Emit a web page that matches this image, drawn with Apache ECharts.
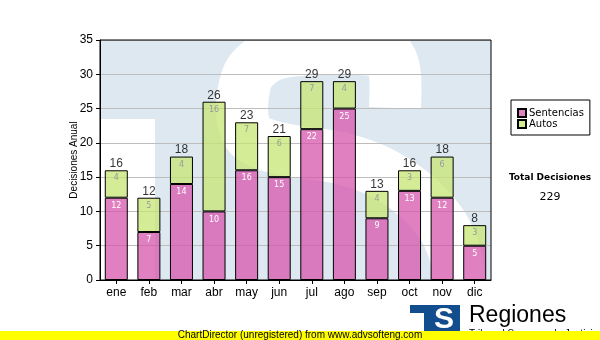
<!DOCTYPE html>
<html>
<head>
<meta charset="utf-8">
<script src="https://cdn.jsdelivr.net/npm/echarts@6/dist/echarts.min.js"></script>
<style>
html,body{margin:0;padding:0;background:#fff;}
#chart{width:600px;height:340px;}
</style>
</head>
<body>
<div id="chart"></div>
<script>
var months = ['ene','feb','mar','abr','may','jun','jul','ago','sep','oct','nov','dic'];
var sentencias = [12,7,14,10,16,15,22,25,9,13,12,5];
var autos = [4,5,4,16,7,6,7,4,4,3,6,3];
var yTicks = {min:0, max:35, interval:5};
var totalLabel = 'Total Decisiones';
var totals = sentencias.map(function(v,i){return v + autos[i];});
var grandTotal = totals.reduce(function(a,b){return a+b;},0);

var chart = echarts.init(document.getElementById('chart'), null, {renderer:'canvas'});
var AR = 'Liberation Sans, Arial, sans-serif';
var TA = 'DejaVu Sans, Verdana, sans-serif';

var sPoints = [[395,108],[395,75],[390,58],[375,50],[300,50],[270,56],[250,72],[243,95],[243,120],[250,136],[270,146],[300,152],[340,158],[380,172],[415,195],[440,222],[452,245],[458,270],[458,330]];

var option = {
  animation:false,
  backgroundColor:'#ffffff',
  grid:{left:100, right:109, top:40, bottom:60, show:true, borderColor:'#000', borderWidth:1, backgroundColor:'transparent', z:1},
  legend:{
    data:['Sentencias','Autos'], orient:'vertical', left:511, top:100,
    backgroundColor:'#fff', borderColor:'#000', borderWidth:1,
    padding:[8,6,6,6], itemWidth:8, itemHeight:8, itemGap:1, icon:'rect',
    textStyle:{fontFamily:TA, fontSize:10, color:'#000', padding:[0,0,0,-2]}
  },
  xAxis:{
    type:'category', data:months,
    axisLine:{lineStyle:{color:'#000', width:1}},
    axisTick:{show:true, alignWithLabel:true, length:4, lineStyle:{color:'#000'}},
    axisLabel:{color:'#000', fontFamily:AR, fontSize:12, margin:7},
    splitLine:{show:false}
  },
  yAxis:{
    type:'value', min:yTicks.min, max:yTicks.max, interval:yTicks.interval,
    name:'Decisiones Anual', nameLocation:'middle', nameGap:21, nameRotate:90, nameMoveOverlap:false,
    nameTextStyle:{color:'#000', fontFamily:AR, fontSize:10},
    axisLine:{show:true, lineStyle:{color:'#000', width:1}},
    axisTick:{show:true, length:4, lineStyle:{color:'#000'}},
    axisLabel:{color:'#000', fontFamily:AR, fontSize:12, margin:7},
    splitLine:{show:true, lineStyle:{color:'#bdbdbd', width:1}}
  },
  series:[
    {
      name:'Sentencias', type:'bar', stack:'d', data:sentencias, barWidth:23, z:3,
      itemStyle:{color:'rgba(214,86,171,0.75)', borderColor:'#000', borderWidth:1},
      label:{show:true, position:'insideTop', distance:4, color:'#fff', fontFamily:TA, fontSize:8}
    },
    {
      name:'Autos', type:'bar', stack:'d', data:autos, barWidth:23, z:3,
      itemStyle:{color:'rgba(198,230,115,0.75)', borderColor:'#000', borderWidth:1},
      label:{show:true, position:'insideTop', distance:4, color:'#9a9a9a', fontFamily:TA, fontSize:8}
    },
    {
      name:'Total', type:'scatter', data:totals, symbolSize:1, z:4, silent:true,
      itemStyle:{color:'rgba(0,0,0,0)'},
      label:{show:true, position:'top', distance:0, color:'#000', fontFamily:AR, fontSize:12}
    }
  ],
  graphic:[
    {type:'rect', z:-10, silent:true, shape:{x:100, y:40, width:391, height:240}, style:{fill:'#dee8f1'}},
    {type:'rect', z:-9, silent:true, shape:{x:100, y:119, width:55, height:161}, style:{fill:'#ffffff'}},
    {type:'polyline', z:-9, silent:true,
      shape:{points:sPoints, smooth:0.3},
      style:{fill:null, stroke:'#ffffff', lineWidth:52, lineCap:'butt', lineJoin:'round'}},
    {type:'rect', z:-8, silent:true, shape:{x:0, y:281, width:600, height:50}, style:{fill:'#ffffff'}},
    {type:'rect', z:-8, silent:true, shape:{x:492, y:0, width:108, height:300}, style:{fill:'#ffffff'}},
    {type:'rect', z:-8, silent:true, shape:{x:0, y:0, width:600, height:39.5}, style:{fill:'#ffffff'}},
    {type:'text', z:10, style:{x:550, y:178, text:totalLabel, fill:'#000', font:'bold 9px DejaVu Sans', textAlign:'center', textVerticalAlign:'middle'}},
    {type:'text', z:10, style:{x:550, y:197, text:String(grandTotal), fill:'#000', font:'11px DejaVu Sans', textAlign:'center', textVerticalAlign:'middle'}},
    {type:'rect', z:10, shape:{x:410, y:305, width:50, height:27}, style:{fill:'#124d8e'}},
    {type:'rect', z:10, shape:{x:410, y:313, width:14, height:19}, style:{fill:'#ffffff'}},
    {type:'text', z:11, style:{x:444, y:320, text:'S', fill:'#ffffff', font:'bold 30px Liberation Sans', textAlign:'center', textVerticalAlign:'middle'}},
    {type:'text', z:10, style:{x:469, y:316, text:'Regiones', fill:'#000', font:'23px Liberation Sans', textAlign:'left', textVerticalAlign:'middle'}},
    {type:'text', z:10, style:{x:469, y:329, text:'Tribunal Supremo de Justicia', fill:'#000', font:'10px Liberation Sans', textAlign:'left', textVerticalAlign:'top'}},
    {type:'rect', z:12, shape:{x:0, y:331, width:600, height:9}, style:{fill:'#ffff00'}},
    {type:'text', z:13, style:{x:300, y:335.5, text:'ChartDirector (unregistered) from www.advsofteng.com', fill:'#000', font:'10px Liberation Sans', textAlign:'center', textVerticalAlign:'middle'}}
  ]
};
chart.setOption(option);
</script>
</body>
</html>
